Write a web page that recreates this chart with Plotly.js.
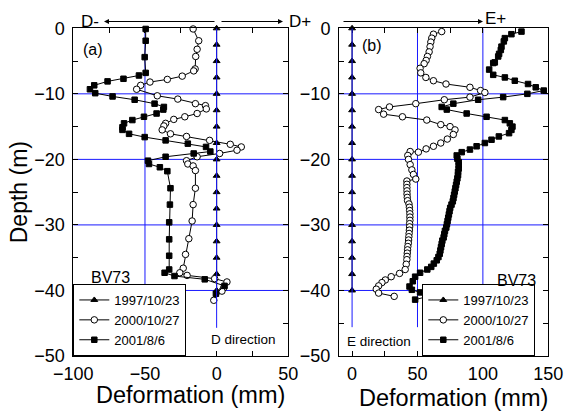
<!DOCTYPE html>
<html>
<head>
<meta charset="utf-8">
<script src="https://cdn.plot.ly/plotly-3.0.1.min.js"></script>
<style>html,body{margin:0;padding:0;background:#fff;}#chart{width:568px;height:414px;}</style>
</head>
<body>
<div id="chart"></div>
<script>
// ---------- DATA ----------
const seriesNames = ['1997/10/23', '2000/10/27', '2001/8/6'];

// Panel (a): D direction
const aTriDepth = [0,-2.5,-5,-7.5,-10,-12.5,-15,-17.5,-20,-22.5,-25,-27.5,-30,-32.5,-35,-37.5,-40];
const aTriDef   = [0,0,0,0,0,0,0,0,0,0,0,0,0,0,0,0,0];

const aCirDef   = [-16.4,-12.5,-13.6,-14.6,-15,-16,-24,-34.4,-46.5,-53,-55.8,-41.4,-27.1,-14.8,-7.8,-7.2,-13.6,-22.2,-29.9,-35.6,-36.8,-38,-32.2,-21,-4.9,9.5,17.2,14.2,2.1,-13.6,-21,-20.1,-16.4,-14.8,-14.8,-16.4,-17.1,-19.4,-21.7,-23.3,-25.7,-20.6,-1.4,7.2,4.9,3.7,-2];
const aCirDepth = [-0.1,-1.9,-3.2,-4.3,-6.2,-6.5,-7.3,-7.8,-8.2,-8.7,-9.3,-10.3,-10.8,-11.5,-11.8,-12.3,-13,-13.5,-13.9,-14.5,-14.9,-15.5,-16.1,-16.5,-17.1,-17.7,-18.1,-18.6,-19.1,-19.6,-20.2,-20.7,-21,-21.7,-24.4,-26.9,-29.4,-32.1,-34.5,-36.6,-37.3,-37.7,-38.2,-38.7,-39.6,-40.1,-41.5];

const aSqDef   = [-49.5,-49.5,-50.2,-49.5,-54.2,-65,-76.1,-85.4,-88.4,-84.7,-72.6,-57.2,-43.3,-36.8,-37.2,-41.9,-50.7,-58.8,-64.6,-65.7,-65.7,-61.1,-50.2,-35.6,-20.1,-7.4,-4.4,-16,-35.6,-47.9,-47.2,-39.6,-34.4,-32.2,-32.6,-33.1,-33.1,-33.1,-33.1,-36.3,-29.4,-8.3,5.5,-0.5];
const aSqDepth = [-0.1,-1.9,-4.4,-6.8,-7.2,-7.7,-8.1,-8.7,-9.3,-9.9,-10.4,-10.9,-11.5,-12,-12.4,-13,-13.5,-14,-14.5,-15.1,-15.5,-16.1,-16.6,-17.1,-17.6,-18.1,-18.8,-19.1,-19.6,-20.2,-20.7,-21.2,-21.8,-24.4,-26.9,-29.6,-32.2,-34.7,-36.8,-37.3,-37.8,-38.3,-39.3,-40.5];

// Panel (b): E direction
const bTriDepth = [0,-2.5,-5,-7.5,-10,-12.5,-15,-17.5,-20,-22.5,-25,-27.5,-30,-32.5,-35,-37.5,-40];
const bTriDef   = [0,0,0,0,0,0,0,0,0,0,0,0,0,0,0,0,0];

const bCirDef   = [68.5,62.2,60.9,60.2,59.6,58.9,57.6,56.6,55.1,52,52.5,56.4,62.2,71.8,90.1,98.2,101.5,90.1,70.5,48.7,28.6,20.3,24.1,38.5,57.1,67.8,74.9,78.7,77.4,72.8,67.8,62.2,56.6,50.7,44.4,42.6,43.1,44.4,45.7,46.9,48.7,41.9,41.9,41.9,42,42,42.2,42.4,43.5,43.8,44,44.2,44.2,44.2,44,44,43.8,43.6,43.4,43.2,43,42.6,42.4,42.2,42,41.9,41.4,40.6,36.3,29.9,25.4,22.8,20.3,18.5,20.3,32.2];
const bCirDepth = [-0.5,-0.9,-1.5,-2.1,-2.8,-3.6,-4.3,-4.9,-5.4,-6.1,-6.8,-7.5,-8,-8.5,-9,-9.5,-9.8,-10.5,-10.9,-11.5,-12,-12.4,-13.1,-13.5,-14,-14.7,-15,-15.5,-16.2,-16.9,-17.5,-18,-18.4,-18.9,-18.8,-19.4,-20,-20.8,-21.6,-22.3,-23,-23.3,-23.8,-24.3,-24.8,-25.3,-25.8,-26.3,-26.8,-27.3,-27.8,-28.3,-28.8,-29.3,-29.8,-30.3,-30.8,-31.3,-31.8,-32.3,-32.8,-33.3,-33.8,-34.3,-34.8,-35.3,-36,-36.8,-37.4,-37.9,-38.4,-38.8,-39.3,-39.8,-40.4,-40.9];

const bSqDef   = [129.5,121.8,116.8,116,114.2,113.7,112.4,111.7,109.1,107.9,104.8,107.9,116.8,124.4,134.5,140.4,146.5,134,115.5,96.4,77.4,68.5,72.4,87.6,102.8,116.8,120.6,122.6,121.8,120,112.2,106.6,101.5,95.2,90.1,83.8,80,80.5,81.5,81.5,81.5,81,81,80.5,80,79.5,79,78.5,78,77.5,77,76,75,74.5,74,73.5,73,72.5,72,71,70.5,70,69,68.5,68,67.5,67,66,64.7,62.5,60.5,57.5,52,48.2,46.4,43.9,45.7,52,60.2,48.2];
const bSqDepth = [-0.5,-0.9,-1.5,-2,-2.8,-3.3,-3.9,-4.3,-5.2,-5.3,-6.3,-7.1,-7.5,-8,-8.5,-9,-9.5,-10,-10.5,-10.9,-11.5,-12,-12.4,-13,-13.5,-14,-14.5,-15,-15.5,-16,-16.5,-17,-17.5,-18,-18.5,-18.9,-19.4,-19.9,-20.4,-20.9,-21.4,-21.9,-22.4,-22.9,-23.4,-23.9,-24.4,-24.9,-25.4,-25.9,-26.4,-26.9,-27.4,-27.9,-28.4,-28.9,-29.4,-29.9,-30.4,-30.9,-31.4,-31.9,-32.4,-32.9,-33.4,-33.9,-34.4,-34.9,-35.4,-35.9,-36.4,-36.8,-37.3,-37.9,-38.6,-39.4,-39.9,-40.3,-40.8,-41.4];

// axis tick values and titles
const aXTicks = [-100, -50, 0, 50];
const bXTicks = [0, 50, 100, 150];
const yTicks  = [0, -10, -20, -30, -40, -50];
const xTitle = 'Deformation (mm)';
const yTitle = 'Depth (m)';

// ---------- STYLE ----------
const FONT = 'Liberation Sans, Arial, sans-serif';
const BLUE = 'rgb(25,25,255)';
const W = 568, H = 414;

function mk(x, y, name, sym, fill, size, xa, ya, leg) {
  return {
    type: 'scatter', mode: 'lines+markers', x: x, y: y, name: name,
    xaxis: xa, yaxis: ya, legend: leg, cliponaxis: false,
    line: {color: '#000', width: 1},
    marker: {symbol: sym, size: size, color: fill, line: {color: '#000', width: 1}}
  };
}

const traces = [
  mk(aTriDef, aTriDepth, seriesNames[0], 'triangle-up', '#000', 6, 'x', 'y', 'legend'),
  mk(aCirDef, aCirDepth, seriesNames[1], 'circle', '#fff', 6.5, 'x', 'y', 'legend'),
  mk(aSqDef, aSqDepth, seriesNames[2], 'square', '#000', 5.5, 'x', 'y', 'legend'),
  mk(bTriDef, bTriDepth, seriesNames[0], 'triangle-up', '#000', 6, 'x2', 'y2', 'legend2'),
  mk(bCirDef, bCirDepth, seriesNames[1], 'circle', '#fff', 6.5, 'x2', 'y2', 'legend2'),
  mk(bSqDef, bSqDepth, seriesNames[2], 'square', '#000', 5.5, 'x2', 'y2', 'legend2')
];

function axBase() {
  return {
    showline: true, linecolor: '#000', linewidth: 1, mirror: 'allticks',
    ticks: 'inside', ticklen: 5, tickcolor: '#000', tickwidth: 1,
    showgrid: false, zeroline: false,
    tickfont: {family: FONT, size: 18, color: '#000'},
    fixedrange: true
  };
}

const yDom = [1 - 356/H, 1 - 28.3/H];

const xa = Object.assign(axBase(), {
  domain: [73.3/W, 288.3/W], range: [-100, 50], anchor: 'y',
  tickmode: 'array', tickvals: aXTicks, ticklabelstandoff: 1,
  minor: {ticks: 'inside', ticklen: 5, tick0: -100, dtick: 25, tickcolor: '#000'}
});
const xb = Object.assign(axBase(), {
  domain: [339/W, 548.3/W], range: [-10, 150], anchor: 'y2',
  tickmode: 'array', tickvals: bXTicks, ticklabelstandoff: 1,
  minor: {ticks: 'inside', ticklen: 5, tick0: 0, dtick: 25, tickcolor: '#000'}
});
const ya = Object.assign(axBase(), {
  domain: yDom, range: [-50, 0], anchor: 'x',
  tickmode: 'array', tickvals: yTicks, ticklabelstandoff: 4,
  minor: {ticks: 'inside', ticklen: 5, tick0: 0, dtick: 5, tickcolor: '#000'},
  title: {text: yTitle, font: {family: FONT, size: 23, color: '#000'}, standoff: 0}
});
const yb = Object.assign(axBase(), {
  domain: yDom, range: [-50, 0], anchor: 'x2',
  tickmode: 'array', tickvals: yTicks, ticklabelstandoff: 4,
  minor: {ticks: 'inside', ticklen: 5, tick0: 0, dtick: 5, tickcolor: '#000'}
});

function seg(xr, yr, x0, y0, x1, y1, above) {
  return {type: 'line', xref: xr, yref: yr, x0: x0, y0: y0, x1: x1, y1: y1,
          line: {color: BLUE, width: 1}, layer: above ? 'above' : 'below'};
}

const shapes = [
  // panel (a)
  seg('x','y',-100,-10,50,-10), seg('x','y',-100,-20,50,-20), seg('x','y',-100,-30,50,-30),
  seg('x','y',-100,-40,-91,-40), seg('x','y',-56.5,-40,50,-40),
  seg('x','y',-50,0,-50,-41),
  seg('x','y',0,0,0,-45.7,true),
  // panel (b)
  seg('x2','y2',-10,-10,150,-10), seg('x2','y2',-10,-20,150,-20), seg('x2','y2',-10,-30,150,-30),
  seg('x2','y2',-10,-40,106.6,-40),
  seg('x2','y2',0,0,0,-45.6,true),
  seg('x2','y2',50,0,50,-45.6),
  seg('x2','y2',100,0,100,-41)
];

function txt(t, px, py, size, xanchor) {
  return {text: t, xref: 'paper', yref: 'paper', x: px/W, y: 1 - py/H,
          xanchor: xanchor || 'center', yanchor: 'middle', showarrow: false,
          borderpad: 0,
          font: {family: FONT, size: size, color: '#000'}};
}
function arrow(headX, tailX, py) {
  return {text: '', xref: 'paper', yref: 'paper', x: headX/W, y: 1 - py/H,
          ax: tailX - headX, ay: 0, axref: 'pixel', ayref: 'pixel',
          showarrow: true, arrowhead: 2, arrowsize: 1, arrowwidth: 1,
          arrowcolor: '#000', standoff: 0, startstandoff: 0};
}

const annotations = [
  txt(xTitle, 190, 395, 23.5),
  txt(xTitle, 453.5, 397.5, 23.5),
  txt('D-', 90, 21, 17),
  txt('D+', 299.5, 21, 17),
  txt('E+', 495, 19, 17),
  arrow(104, 216, 21.5),
  arrow(283, 220, 21.5),
  arrow(483, 342, 21.5),
  txt('(a)', 93, 50, 16),
  txt('(b)', 372, 45, 16),
  txt('BV73', 110, 277, 16),
  txt('BV73', 516, 280, 16),
  txt('D direction', 243, 339, 13.5),
  txt('E direction', 379, 341, 13.5)
];

const legBase = {
  bgcolor: '#fff', bordercolor: '#000', borderwidth: 1,
  font: {family: FONT, size: 13, color: '#000'},
  xanchor: 'left', yanchor: 'bottom', y: 1 - 356/H, tracegroupgap: 0,
  itemclick: false, itemdoubleclick: false
};

const layout = {
  width: W, height: H,
  margin: {l: 0, r: 0, t: 0, b: 0},
  paper_bgcolor: '#fff', plot_bgcolor: '#fff',
  font: {family: FONT, color: '#000'},
  showlegend: true,
  xaxis: xa, yaxis: ya, xaxis2: xb, yaxis2: yb,
  legend: Object.assign({}, legBase, {x: 73.3/W}),
  legend2: Object.assign({}, legBase, {x: 422.3/W}),
  shapes: shapes,
  annotations: annotations
};

Plotly.newPlot('chart', traces, layout, {staticPlot: true, displayModeBar: false});
</script>
</body>
</html>
